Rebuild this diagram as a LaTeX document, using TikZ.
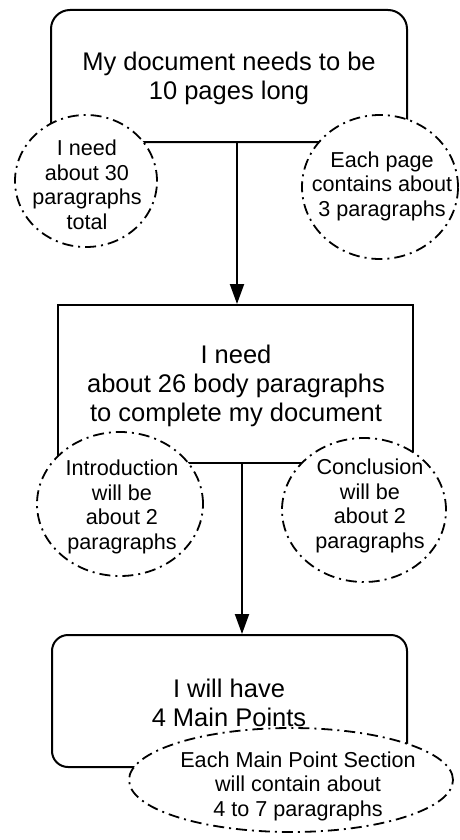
\documentclass[tikz,border=0pt]{standalone}
\usepackage{fontspec}
\setmainfont{Liberation Sans}
\usetikzlibrary{shapes.geometric,arrows.meta}
\tikzset{
  bigbox/.style={draw=black, line width=2pt, fill=white, inner sep=0pt},
  ell/.style={ellipse, draw=black, fill=white, line width=1.8pt, inner sep=0pt,
    dash pattern=on 11pt off 5pt on 2pt off 5pt},
  bigtext/.style={align=center, font=\fontsize{25.5}{29}\selectfont, inner sep=0pt},
  smalltext/.style={align=center, font=\fontsize{21.6}{24.5}\selectfont, inner sep=0pt},
  arr/.style={line width=2pt, -{Triangle[length=20pt,width=14pt]}}
}
\begin{document}
\begin{tikzpicture}[x=1pt,y=-1pt]
\useasboundingbox (0,0) rectangle (459,840);
% top box
\node[bigbox, rounded corners=19pt, minimum width=356pt, minimum height=132pt] (top) at (229,76) {};
\node[bigtext] (toptxt) at (229,78) {My document needs to be\\10 pages long};
% middle box
\node[bigbox, minimum width=355pt, minimum height=158pt] (mid) at (235.5,384) {};
\node[bigtext] (midtxt) at (236,386) {I need\\about 26 body paragraphs\\to complete my document};
% bottom box
\node[bigbox, rounded corners=16pt, minimum width=355pt, minimum height=132pt] (bot) at (229.5,701) {};
\node[bigtext] (bottxt) at (229,703) {I will have\\4 Main Points};
% connectors
\draw[arr] ([xshift=8pt]top.south) -- ([xshift=8pt]top.south |- mid.north);
\draw[arr] ([xshift=6.5pt]mid.south) -- ([xshift=6.5pt]mid.south |- bot.north);
% ellipses top
\node[ell, minimum width=142pt, minimum height=132pt] (e1) at (86,181) {};
\node[smalltext] (e1t) at (87,185) {I need\\about 30\\paragraphs\\total};
\node[ell, minimum width=156pt, minimum height=144pt] (e2) at (380,187) {};
\node[smalltext] (e2t) at (382,186) {Each page\\contains about\\3 paragraphs};
% ellipses middle
\node[ell, minimum width=166pt, minimum height=144pt] (e3) at (120,504) {};
\node[smalltext] (e3t) at (122,507) {Introduction\\will be\\about 2\\paragraphs};
\node[ell, minimum width=164pt, minimum height=144pt] (e4) at (364,510) {};
\node[smalltext] (e4t) at (370,506) {Conclusion\\will be\\about 2\\paragraphs};
% ellipse bottom
\node[ell, minimum width=324pt, minimum height=104pt] (e5) at (291,780) {};
\node[smalltext] (e5t) at (298,786) {Each Main Point Section\\will contain about\\4 to 7 paragraphs};
\end{tikzpicture}
\end{document}
